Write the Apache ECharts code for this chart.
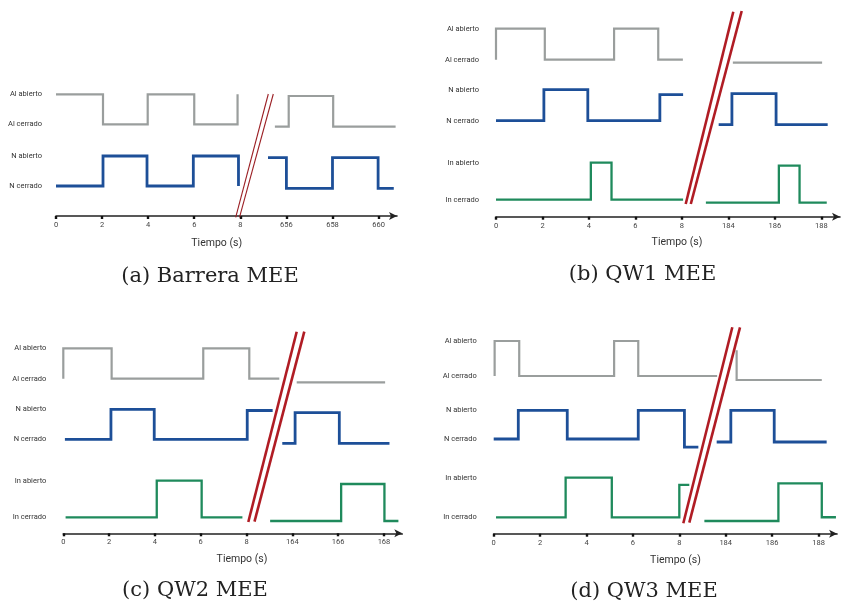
<!DOCTYPE html>
<html><head><meta charset="utf-8">
<script src="https://cdn.jsdelivr.net/npm/echarts@6/dist/echarts.min.js"></script>
<style>html,body{margin:0;padding:0;background:#fff}#c{width:841px;height:603px}</style>
</head><body><div id="c"></div>
<script>
// ---------- DATA : [time (s), state] ; state 1 = abierto, 0 = cerrado ----------
// x-axis tick labels
const leftTicks = [0, 2, 4, 6, 8];
const rightTicksA = [656, 658, 660];
const rightTicksB = [184, 186, 188];
const rightTicksC = [164, 166, 168];
const rightTicksD = [184, 186, 188];
const stateLabels = ['Al abierto', 'Al cerrado', 'N abierto', 'N cerrado', 'In abierto', 'In cerrado'];
const captions = ['(a) Barrera MEE', '(b) QW1 MEE', '(c) QW2 MEE', '(d) QW3 MEE'];
const axisTitle = 'Tiempo (s)';

// (a) Barrera MEE
const aAlLeft  = [[0,1],[2.04,0],[3.98,1],[6.0,0],[7.88,1]];
const aNLeft   = [[0,0],[2.04,1],[3.95,0],[5.96,1],[7.92,0]];
const aAlRight = [[655.5,0],[656.1,1],[658.03,0],[660.74,0]];
const aNRight  = [[655.2,1],[656.0,0],[658.0,1],[659.98,0],[660.66,0]];

// (b) QW1 MEE
const bAlLeft  = [[0,0],[0,1],[2.1,0],[5.08,1],[6.98,0],[8.04,0]];
const bNLeft   = [[0,0],[2.06,1],[3.95,0],[7.05,0.84],[8.05,0.84]];
const bInLeft  = [[0,0],[4.08,1],[4.97,0],[8.05,0]];
const bAlRight = [[184.19,0],[188.03,0]];
const bNRight  = [[183.58,0],[184.15,1],[186.05,0],[188.27,0]];
const bInRight = [[183.03,0],[186.17,1],[187.06,0],[188.23,0]];

// (c) QW2 MEE
const cAlLeft  = [[0,0],[0,1],[2.11,0],[6.11,1],[8.12,0],[9.43,0]];
const cNLeft   = [[0.07,0],[2.08,1],[3.97,0],[8.03,0.96],[9.14,0.96]];
const cInLeft  = [[0.1,0],[4.08,1],[6.04,0],[7.82,0]];
const cAlRight = [[164.19,0],[168.05,0]];
const cNRight  = [[163.56,0],[164.12,1],[166.05,0],[168.24,0]];
const cInRight = [[163.03,0],[166.13,1],[168.02,0],[168.63,0]];

// (d) QW3 MEE
const dAlLeft  = [[0.04,0],[0.04,1],[1.1,0],[5.19,1],[6.23,0],[9.63,0]];
const dNLeft   = [[0,0],[1.06,1],[3.17,0],[6.23,1],[8.22,-0.28],[8.82,-0.28]];
const dInLeft  = [[0.1,0],[3.1,1],[5.09,0],[8.0,0.82],[8.43,0.82]];
const dAlRight = [[184.47,0.85],[184.47,0],[188.14,0]];
const dNRight  = [[183.61,0],[184.22,1],[186.09,0],[188.35,0]];
const dInRight = [[183.08,0],[186.27,1],[188.14,0.1],[188.75,0.1]];

// ---------- LAYOUT / STYLE ----------
const COLORS = { Al: '#9a9e9d', N: '#1d4f98', In: '#1f8a5c' };
const WIDTHS = { Al: 2.2, N: 2.8, In: 2.3 };
const BREAK_GAP_UNITS = 10; // axis position of the first right-hand tick
const X_MAX = 14.8;

const panels = [
  { grid: { left: 56, top: 76, width: 341, height: 140 }, rightTicks: rightTicksA, labelMargin: 14,
    sig: { Al: [aAlLeft, aAlRight], N: [aNLeft, aNRight] },
    lv: { left: { Al: [91.7, 121.7], N: [30, 60] }, right: { Al: [89.3, 120], N: [27.7, 58.3] } },
    title: [216.7, 243.3], cap: [210, 276.7],
    brk: { w: 1.1, color: '#9b1f24', lines: [[235.7, 217.3, 268.3, 94], [239.5, 217.3, 273.3, 94]] } },
  { grid: { left: 496, top: 6.7, width: 344, height: 210 }, rightTicks: rightTicksB, labelMargin: 17,
    sig: { Al: [bAlLeft, bAlRight], N: [bNLeft, bNRight], In: [bInLeft, bInRight] },
    lv: { left: { Al: [157, 188], N: [96, 127], In: [17, 54] }, right: { Al: [154, 185], N: [92, 123], In: [14, 51] } },
    title: [677, 242.7], cap: [642.5, 275],
    brk: { w: 2.6, color: '#b01c24', lines: [[685.7, 204, 733.3, 11.7], [690.8, 204, 741.7, 11]] } },
  { grid: { left: 63.3, top: 323.3, width: 339, height: 210 }, rightTicks: rightTicksC, labelMargin: 17,
    sig: { Al: [cAlLeft, cAlRight], N: [cNLeft, cNRight], In: [cInLeft, cInRight] },
    lv: { left: { Al: [154.6, 185], N: [94, 124], In: [16, 52.6] }, right: { Al: [151, 181.5], N: [90, 120.6], In: [12.3, 49.3] } },
    title: [242, 559], cap: [195, 590.7],
    brk: { w: 2.6, color: '#b01c24', lines: [[248.3, 522, 296.7, 331.7], [254.5, 521.7, 304.3, 331.7]] } },
  { grid: { left: 493.7, top: 323.7, width: 343.4, height: 210 }, rightTicks: rightTicksD, labelMargin: 17,
    sig: { Al: [dAlLeft, dAlRight], N: [dNLeft, dNRight], In: [dInLeft, dInRight] },
    lv: { left: { Al: [157.7, 192.7], N: [94.7, 123.4], In: [16.4, 56] }, right: { Al: [153.7, 188.7], N: [91.7, 123.4], In: [12.7, 50.4] } },
    title: [675.5, 560], cap: [644, 591.7],
    brk: { w: 2.6, color: '#b01c24', lines: [[683.3, 523.3, 732.3, 327.3], [689.3, 522.7, 740, 327.3]] } }
];

const grids = [], xAxes = [], yAxes = [], series = [], graphics = [];

panels.forEach((p, i) => {
  const H = p.grid.height;
  grids.push(Object.assign({}, p.grid));
  const offset = p.rightTicks[0] - BREAK_GAP_UNITS;
  const tickPos = leftTicks.concat(p.rightTicks.map(t => t - offset));
  const tickTxt = leftTicks.concat(p.rightTicks).map(String);

  xAxes.push({
    gridIndex: i, type: 'value', min: 0, max: X_MAX, interval: 2,
    axisLine: { show: true, onZero: false, symbol: ['none', 'arrow'], symbolSize: [6, 8],
      lineStyle: { color: '#222', width: 1.6 } },
    axisTick: { show: true, customValues: tickPos, length: 3, lineStyle: { color: '#111', width: 2.4 } },
    axisLabel: { customValues: tickPos, fontSize: 7.5, color: '#444', margin: 5, fontFamily: 'Roboto',
      formatter: v => { const j = tickPos.findIndex(x => Math.abs(x - v) < 0.01); return j >= 0 ? tickTxt[j] : ''; } },
    splitLine: { show: false }
  });

  const vals = [], names = [];
  Object.keys(p.sig).forEach(k => {
    const lvl = p.lv.left[k];
    const idx = stateLabels.findIndex(s => s.startsWith(k + ' '));
    vals.push(lvl[1]); names.push(stateLabels[idx]);
    vals.push(lvl[0]); names.push(stateLabels[idx + 1]);
  });

  yAxes.push({
    gridIndex: i, type: 'value', min: 0, max: H,
    axisLine: { show: false }, axisTick: { show: false }, splitLine: { show: false },
    axisLabel: { customValues: vals, fontSize: 7.5, color: '#333', margin: p.labelMargin, fontFamily: 'Roboto',
      formatter: v => { const j = vals.findIndex(x => Math.abs(x - v) < 0.01); return j >= 0 ? names[j] : ''; } }
  });

  Object.keys(p.sig).forEach(k => {
    ['left', 'right'].forEach((side, s) => {
      const lvl = p.lv[side][k];
      const data = p.sig[k][s].map(([t, st]) => [side === 'left' ? t : t - offset, lvl[0] + st * (lvl[1] - lvl[0])]);
      series.push({
        type: 'line', xAxisIndex: i, yAxisIndex: i, step: 'end', data,
        symbol: 'none', showSymbol: false, silent: true, clip: false,
        lineStyle: { color: COLORS[k], width: WIDTHS[k], cap: 'butt', join: 'miter' }
      });
    });
  });

  p.brk.lines.forEach(l => graphics.push({
    type: 'line', shape: { x1: l[0], y1: l[1], x2: l[2], y2: l[3] },
    style: { stroke: p.brk.color, lineWidth: p.brk.w }, z: 100
  }));
  graphics.push({ type: 'text', x: p.title[0], y: p.title[1],
    style: { text: axisTitle, fill: '#333', font: '10.5px Roboto', align: 'center', verticalAlign: 'middle' } });
  graphics.push({ type: 'text', x: p.cap[0], y: p.cap[1],
    style: { text: captions[i], fill: '#222', font: '21px "DejaVu Serif"', align: 'center', verticalAlign: 'middle' } });
});

const chart = echarts.init(document.getElementById('c'), null, { renderer: 'canvas' });
chart.setOption({
  animation: false, backgroundColor: '#fff',
  grid: grids, xAxis: xAxes, yAxis: yAxes, series, graphic: graphics
});
</script></body></html>
